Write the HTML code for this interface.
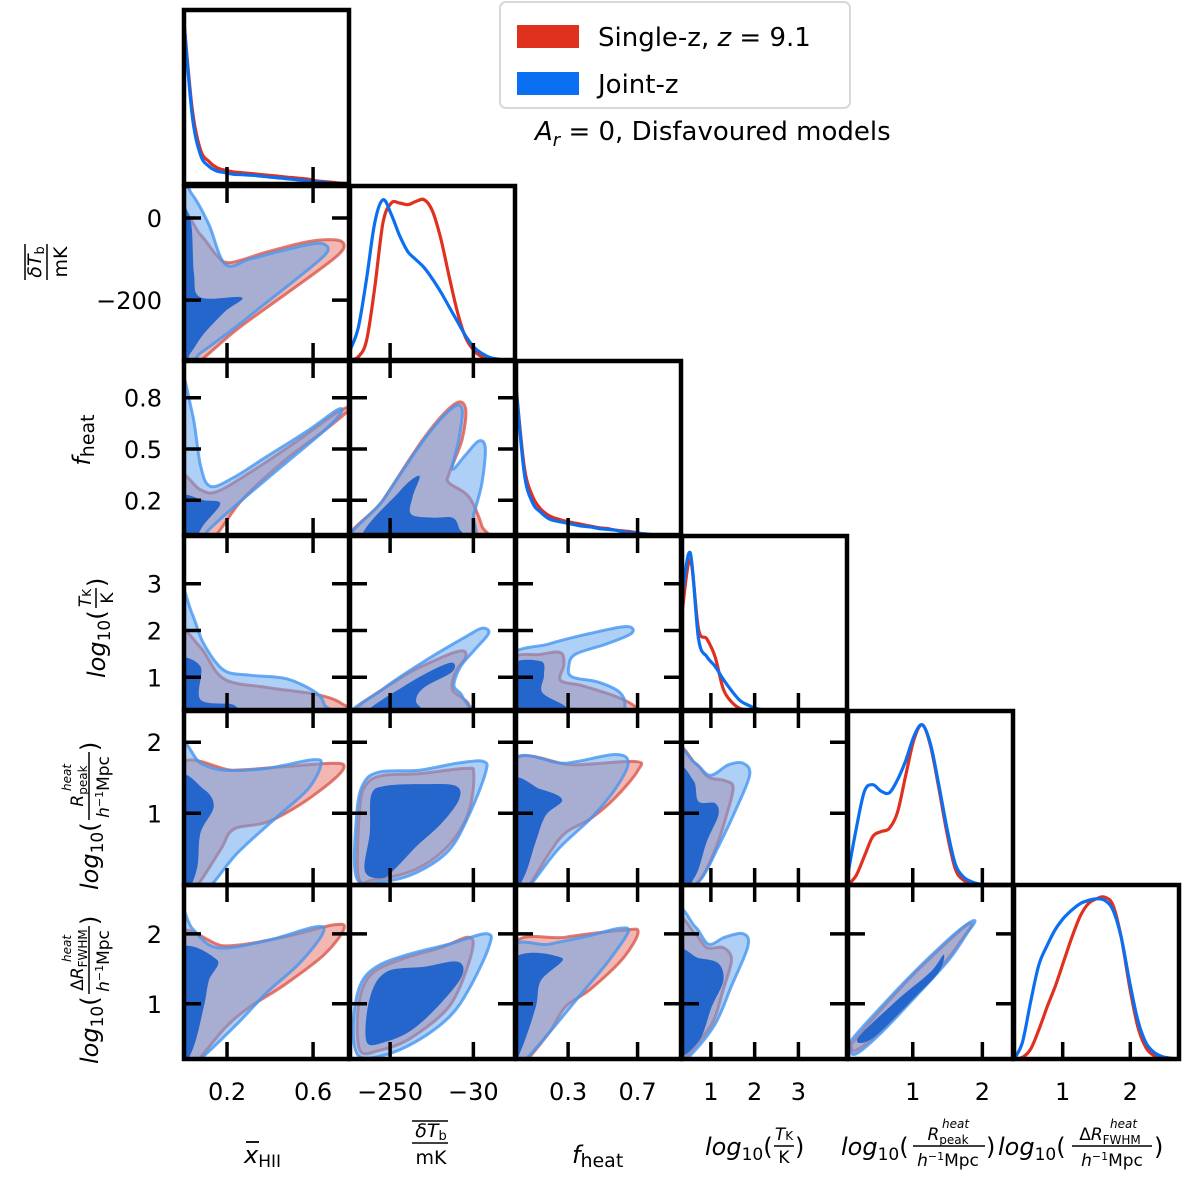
<!DOCTYPE html>
<html><head><meta charset="utf-8"><style>
html,body{margin:0;padding:0;background:#fff;}
svg{display:block;font-family:"DejaVu Sans","Liberation Sans",sans-serif;}
</style></head><body>
<svg id="c" width="1200" height="1188" viewBox="0 0 1200 1188" xmlns="http://www.w3.org/2000/svg"></svg>
<script>
// ---------- data ----------
const paramNames = ["xHII","dTb","fheat","logTK","logRpeak","logDR"];
const xRangeLo = [0, -356, 0, 0.34, 0.07, 0.28];
const xRangeHi = [0.767, 80, 0.95, 4.11, 2.44, 2.72];
const yRangeLo = [0, -346, -0.003, 0.30, -0.01, 0.21];
const yRangeHi = [1, 78, 1.015, 4.02, 2.44, 2.70];
const xTicks = [[0.2,0.6],[-250,-30],[0.3,0.7],[1,2,3],[1,2],[1,2]];
const xTickLabels = [["0.2","0.6"],["\u2212250","\u221230"],["0.3","0.7"],["1","2","3"],["1","2"],["1","2"]];
const yTicks = [[],[0,-200],[0.8,0.5,0.2],[3,2,1],[2,1],[2,1]];
const yTickLabels = [[],["0","\u2212200"],["0.8","0.5","0.2"],["3","2","1"],["2","1"],["2","1"]];

// 1D marginal densities (normalised), sampled at 21 evenly spaced points across each x range
const densRed = [
 [1.0,0.46,0.21,0.14,0.1,0.085,0.075,0.07,0.065,0.06,0.055,0.05,0.045,0.04,0.035,0.03,0.02,0.015,0.01,0.005,0],
 [0,0.02,0.12,0.45,0.85,0.97,0.97,0.96,0.98,0.99,0.92,0.75,0.52,0.3,0.14,0.06,0.02,0.01,0,0,0],
 [0.92,0.42,0.24,0.16,0.12,0.1,0.085,0.075,0.065,0.055,0.045,0.04,0.03,0.025,0.02,0.01,0.005,0,0,0,0],
 [0.6,0.93,0.5,0.44,0.33,0.13,0.05,0.01,0,0,0,0,0,0,0,0,0,0,0,0,0],
 [0,0.06,0.18,0.3,0.33,0.35,0.45,0.68,0.9,0.99,0.86,0.6,0.32,0.1,0.03,0.01,0,0,0,0,0],
 [0,0.01,0.06,0.18,0.32,0.45,0.6,0.75,0.88,0.96,0.99,1.0,0.95,0.75,0.45,0.2,0.07,0.02,0.005,0,0]
];
const densBlue = [
 [1.0,0.42,0.18,0.11,0.08,0.07,0.06,0.058,0.055,0.05,0.045,0.04,0.035,0.03,0.025,0.02,0.015,0.01,0.005,0.002,0],
 [0.06,0.2,0.5,0.85,0.99,0.9,0.77,0.67,0.62,0.57,0.5,0.42,0.33,0.24,0.15,0.08,0.04,0.015,0.005,0,0],
 [0.92,0.38,0.2,0.14,0.1,0.085,0.075,0.065,0.055,0.05,0.04,0.035,0.03,0.02,0.015,0.01,0.005,0,0,0,0],
 [0.7,0.97,0.44,0.33,0.27,0.19,0.12,0.06,0.03,0.01,0,0,0,0,0,0,0,0,0,0,0],
 [0.07,0.35,0.58,0.62,0.58,0.57,0.65,0.77,0.92,0.99,0.87,0.62,0.35,0.13,0.05,0.02,0.005,0,0,0,0],
 [0,0.1,0.35,0.58,0.7,0.8,0.87,0.92,0.96,0.98,0.99,0.98,0.92,0.75,0.48,0.24,0.1,0.04,0.015,0.005,0]
];

// 2D credible contours, as fractions of each parameter range: key "row-col"
const contourBlueOuter = {
 "1-0":[[0,1],[0.05,0.95],[0.15,0.78],[0.25,0.55],[0.4,0.58],[0.6,0.63],[0.8,0.67],[0.87,0.65],[0.85,0.6],[0.7,0.48],[0.5,0.33],[0.3,0.18],[0.1,0.04],[0,0]],
 "2-0":[[0,0.95],[0.05,0.7],[0.1,0.4],[0.16,0.28],[0.3,0.33],[0.5,0.45],[0.75,0.6],[0.93,0.72],[0.95,0.7],[0.85,0.6],[0.6,0.4],[0.35,0.2],[0.15,0.03],[0.1,0],[0,0]],
 "2-1":[[0.02,0],[0.2,0.2],[0.45,0.55],[0.62,0.73],[0.68,0.72],[0.66,0.55],[0.62,0.38],[0.7,0.46],[0.78,0.54],[0.82,0.5],[0.8,0.3],[0.75,0.12],[0.7,0]],
 "3-0":[[0,0.72],[0.05,0.55],[0.12,0.38],[0.24,0.23],[0.4,0.2],[0.62,0.18],[0.8,0.1],[0.85,0.03],[0.85,0],[0,0]],
 "3-1":[[0.02,0],[0.2,0.12],[0.45,0.28],[0.7,0.42],[0.8,0.47],[0.84,0.44],[0.75,0.34],[0.67,0.25],[0.63,0.14],[0.68,0.08],[0.68,0]],
 "3-2":[[0,0.3],[0.2,0.38],[0.45,0.44],[0.67,0.48],[0.7,0.44],[0.55,0.38],[0.36,0.32],[0.32,0.25],[0.34,0.19],[0.5,0.16],[0.63,0.1],[0.66,0.02],[0.62,0],[0,0]],
 "4-0":[[0,0.8],[0.1,0.7],[0.25,0.66],[0.5,0.67],[0.78,0.72],[0.83,0.69],[0.75,0.55],[0.55,0.38],[0.32,0.18],[0.12,0],[0,0]],
 "4-1":[[0.04,0.04],[0.04,0.4],[0.08,0.58],[0.18,0.65],[0.42,0.66],[0.65,0.7],[0.81,0.71],[0.82,0.64],[0.72,0.4],[0.6,0.2],[0.4,0.07],[0.2,0.02]],
 "4-2":[[0,0.69],[0.3,0.7],[0.6,0.75],[0.68,0.7],[0.6,0.55],[0.45,0.38],[0.25,0.2],[0.05,0],[0,0]],
 "4-3":[[0,0.74],[0.08,0.7],[0.17,0.63],[0.28,0.69],[0.37,0.7],[0.41,0.63],[0.32,0.42],[0.22,0.22],[0.12,0.04],[0.02,0],[0,0]],
 "5-0":[[0,0.86],[0.05,0.75],[0.2,0.64],[0.5,0.68],[0.8,0.76],[0.84,0.72],[0.7,0.55],[0.5,0.38],[0.32,0.2],[0.05,0],[0,0]],
 "5-1":[[0.05,0.02],[0.02,0.2],[0.06,0.42],[0.16,0.53],[0.35,0.6],[0.6,0.66],[0.83,0.72],[0.84,0.64],[0.72,0.4],[0.6,0.24],[0.4,0.1],[0.2,0.02]],
 "5-2":[[0,0.61],[0.2,0.66],[0.45,0.71],[0.62,0.75],[0.68,0.73],[0.55,0.55],[0.4,0.38],[0.2,0.15],[0.02,0],[0,0]],
 "5-3":[[0,0.82],[0.08,0.76],[0.16,0.66],[0.26,0.7],[0.37,0.72],[0.4,0.65],[0.3,0.42],[0.2,0.2],[0.05,0.02],[0,0]],
 "5-4":[[0.01,0.06],[0.03,0.12],[0.35,0.45],[0.6,0.68],[0.73,0.78],[0.77,0.79],[0.72,0.72],[0.62,0.58],[0.45,0.4],[0.2,0.15],[0.05,0.03]]
};
const contourRedOuter = {
 "1-0":[[0,0.83],[0.1,0.72],[0.2,0.6],[0.28,0.56],[0.5,0.62],[0.75,0.68],[0.92,0.69],[0.97,0.66],[0.93,0.6],[0.75,0.47],[0.5,0.3],[0.3,0.16],[0.05,0],[0,0]],
 "2-0":[[0,0.35],[0.1,0.26],[0.2,0.25],[0.4,0.36],[0.7,0.55],[0.92,0.7],[1,0.75],[0.98,0.7],[0.85,0.6],[0.6,0.42],[0.35,0.2],[0.15,0],[0,0]],
 "2-1":[[0.02,0],[0.2,0.2],[0.45,0.56],[0.63,0.75],[0.7,0.73],[0.68,0.55],[0.6,0.35],[0.6,0.3],[0.72,0.22],[0.8,0.05],[0.8,0]],
 "3-0":[[0,0.45],[0.1,0.36],[0.24,0.18],[0.5,0.13],[0.8,0.09],[0.95,0.04],[0.98,0],[0,0]],
 "3-1":[[0.03,0],[0.3,0.18],[0.55,0.3],[0.68,0.34],[0.7,0.3],[0.64,0.22],[0.62,0.12],[0.68,0.07],[0.72,0.03],[0.7,0]],
 "3-2":[[0,0.28],[0.15,0.32],[0.27,0.33],[0.29,0.26],[0.27,0.17],[0.4,0.14],[0.6,0.08],[0.72,0.02],[0.72,0],[0,0]],
 "4-0":[[0,0.67],[0.3,0.66],[0.6,0.68],[0.9,0.7],[0.97,0.68],[0.9,0.6],[0.7,0.46],[0.5,0.36],[0.3,0.32],[0.22,0.2],[0.05,0],[0,0]],
 "4-1":[[0.05,0.05],[0.06,0.45],[0.1,0.58],[0.2,0.63],[0.42,0.64],[0.7,0.67],[0.75,0.64],[0.72,0.42],[0.6,0.23],[0.4,0.09],[0.15,0.03]],
 "4-2":[[0,0.69],[0.35,0.69],[0.72,0.71],[0.74,0.66],[0.6,0.5],[0.45,0.38],[0.3,0.3],[0.2,0.18],[0.05,0],[0,0]],
 "4-3":[[0,0.75],[0.08,0.7],[0.16,0.62],[0.26,0.6],[0.31,0.56],[0.27,0.4],[0.2,0.2],[0.1,0.02],[0,0]],
 "5-0":[[0,0.7],[0.25,0.65],[0.6,0.7],[0.9,0.77],[0.97,0.75],[0.85,0.6],[0.6,0.42],[0.4,0.3],[0.25,0.18],[0.05,0],[0,0]],
 "5-1":[[0.06,0.05],[0.05,0.3],[0.12,0.48],[0.3,0.57],[0.55,0.64],[0.72,0.7],[0.74,0.62],[0.65,0.38],[0.55,0.25],[0.35,0.11],[0.18,0.05]],
 "5-2":[[0,0.63],[0.3,0.7],[0.65,0.74],[0.74,0.73],[0.65,0.58],[0.45,0.4],[0.3,0.3],[0.2,0.15],[0.03,0],[0,0]],
 "5-3":[[0,0.77],[0.08,0.72],[0.15,0.64],[0.25,0.64],[0.3,0.57],[0.25,0.4],[0.18,0.2],[0.03,0.02],[0,0]],
 "5-4":[[0.02,0.07],[0.05,0.12],[0.35,0.44],[0.6,0.67],[0.72,0.77],[0.75,0.77],[0.7,0.7],[0.6,0.57],[0.45,0.41],[0.2,0.16],[0.05,0.05]]
};
const contourBlueInner = {
 "1-0":[[0,0.85],[0.04,0.8],[0.06,0.5],[0.1,0.36],[0.35,0.36],[0.25,0.28],[0.12,0.15],[0.04,0.04],[0,0]],
 "2-0":[[0,0.22],[0.12,0.2],[0.22,0.18],[0.12,0.06],[0.05,0],[0,0]],
 "2-1":[[0.08,0],[0.3,0.25],[0.42,0.34],[0.38,0.22],[0.37,0.12],[0.5,0.1],[0.62,0.1],[0.66,0.04],[0.66,0]],
 "3-0":[[0,0.28],[0.1,0.25],[0.1,0.06],[0.3,0.03],[0.3,0],[0,0]],
 "3-1":[[0.08,0],[0.35,0.15],[0.6,0.27],[0.62,0.22],[0.45,0.13],[0.4,0.05],[0.45,0]],
 "3-2":[[0,0.25],[0.15,0.28],[0.17,0.2],[0.16,0.1],[0.3,0.02],[0.3,0],[0,0]],
 "4-0":[[0,0.6],[0.12,0.55],[0.18,0.45],[0.1,0.3],[0.08,0.1],[0.02,0],[0,0]],
 "4-1":[[0.09,0.08],[0.12,0.3],[0.13,0.52],[0.22,0.57],[0.45,0.58],[0.64,0.57],[0.66,0.49],[0.55,0.35],[0.4,0.22],[0.28,0.1],[0.2,0.04]],
 "4-2":[[0,0.58],[0.15,0.55],[0.28,0.49],[0.18,0.4],[0.12,0.25],[0.05,0.05],[0,0]],
 "4-3":[[0,0.65],[0.07,0.6],[0.1,0.48],[0.2,0.47],[0.22,0.4],[0.15,0.25],[0.08,0.05],[0,0]],
 "5-0":[[0,0.61],[0.2,0.57],[0.15,0.45],[0.12,0.3],[0.05,0.05],[0,0]],
 "5-1":[[0.1,0.1],[0.12,0.35],[0.22,0.5],[0.45,0.53],[0.65,0.56],[0.68,0.48],[0.55,0.32],[0.38,0.17],[0.22,0.1]],
 "5-2":[[0,0.55],[0.28,0.58],[0.15,0.45],[0.12,0.3],[0.03,0.05],[0,0]],
 "5-3":[[0,0.6],[0.1,0.58],[0.22,0.55],[0.25,0.45],[0.18,0.3],[0.1,0.1],[0,0.05]],
 "5-4":[[0.06,0.12],[0.3,0.34],[0.5,0.5],[0.58,0.6],[0.55,0.5],[0.4,0.35],[0.15,0.12]]
};

// ---------- layout ----------
const svg = document.getElementById('c');
const NS = 'http://www.w3.org/2000/svg';
const L = [184,350,516,682,848,1014], T = [10,186,361,536,711,885], W = 165, H = 174;
const RED = '#e0301e', BLUE = '#0a6ff0';
function mk(tag, attrs, parent){ const e=document.createElementNS(NS,tag); for(const k in attrs) e.setAttribute(k,attrs[k]); (parent||svg).appendChild(e); return e; }
function xAxis(c){ return v => L[c] + (v - xRangeLo[c])/(xRangeHi[c]-xRangeLo[c])*W; }
function yAxis(r){ return v => T[r] + H - (v - yRangeLo[r])/(yRangeHi[r]-yRangeLo[r])*H; }
function smoothPath(pts, closed){
  const n=pts.length; let d='M'+pts[0][0].toFixed(1)+','+pts[0][1].toFixed(1);
  const get=i=> closed ? pts[(i+n)%n] : pts[Math.max(0,Math.min(n-1,i))];
  const segs = closed ? n : n-1;
  for(let i=0;i<segs;i++){
    const p0=get(i-1),p1=get(i),p2=get(i+1),p3=get(i+2);
    const c1=[p1[0]+(p2[0]-p0[0])/6,p1[1]+(p2[1]-p0[1])/6];
    const c2=[p2[0]-(p3[0]-p1[0])/6,p2[1]-(p3[1]-p1[1])/6];
    d+=' C'+c1[0].toFixed(1)+','+c1[1].toFixed(1)+' '+c2[0].toFixed(1)+','+c2[1].toFixed(1)+' '+p2[0].toFixed(1)+','+p2[1].toFixed(1);
  }
  return closed? d+' Z' : d;
}
const defs = mk('defs',{});
function fracToPx(r,c,pts){
  const xa=xAxis(c), ya=yAxis(r);
  return pts.map(p=>{
    let u=p[0], v=p[1];
    if(u<=0) u=-0.04; if(v<=0) v=-0.04; if(u>=1) u=1.04;
    const xv = xRangeLo[c] + u*(xRangeHi[c]-xRangeLo[c]);
    const yv = yRangeLo[r] + v*(yRangeHi[r]-yRangeLo[r]);
    return [xa(xv), ya(yv)];
  });
}

for(let r=0;r<6;r++){
  for(let c=0;c<=r;c++){
    const g = mk('g',{});
    
    
    const cid='clip'+r+c;
    const cp=mk('clipPath',{id:cid},defs); mk('rect',{x:L[c],y:T[r],width:W,height:H},cp);
    const inner = mk('g',{'clip-path':'url(#'+cid+')'},g);
    if(r===c){
      const xa=xAxis(c); const base=T[r]+H;
      [[densRed[c],RED,'red'],[densBlue[c],BLUE,'blue']].forEach(([arr,col,nm])=>{
        const pts=arr.map((d,i)=>[xa(xRangeLo[c]+i/(arr.length-1)*(xRangeHi[c]-xRangeLo[c])), base - d*0.93*H]);
        const p=mk('path',{d:smoothPath(pts,false),fill:'none',stroke:col,'stroke-width':3.2,'stroke-linejoin':'round'},inner);
        
        
      });
    } else {
      const key=r+'-'+c;
      const ro=mk('path',{d:smoothPath(fracToPx(r,c,contourRedOuter[key]),true),fill:'rgba(232,110,100,0.5)',stroke:'rgba(215,80,70,0.75)','stroke-width':3},inner);
      
      
      const bo=mk('path',{d:smoothPath(fracToPx(r,c,contourBlueOuter[key]),true),fill:'rgba(100,165,240,0.52)',stroke:'rgba(70,150,240,0.8)','stroke-width':3},inner);
      
      
      const bi=mk('path',{d:smoothPath(fracToPx(r,c,contourBlueInner[key]),true),fill:'#2466cc',stroke:'none'},inner);
      
      
    }
    const xa=xAxis(c), tl=17;
    xTicks[c].forEach(t=>{
      const x=xa(t);
      mk('line',{x1:x,x2:x,y1:T[r]+H,y2:T[r]+H-tl,stroke:'#000','stroke-width':3.5},g);
      if(r!==c) mk('line',{x1:x,x2:x,y1:T[r],y2:T[r]+tl,stroke:'#000','stroke-width':3.5},g);
    });
    if(r!==c){
      const ya=yAxis(r);
      yTicks[r].forEach(t=>{
        const y=ya(t);
        mk('line',{x1:L[c],x2:L[c]+tl,y1:y,y2:y,stroke:'#000','stroke-width':3.5},g);
        mk('line',{x1:L[c]+W,x2:L[c]+W-tl,y1:y,y2:y,stroke:'#000','stroke-width':3.5},g);
      });
    }
    mk('rect',{x:L[c],y:T[r],width:W,height:H,fill:'none',stroke:'#000','stroke-width':4.5},g);
  }
}
for(let c=0;c<6;c++){
  const xa=xAxis(c);
  xTicks[c].forEach((t,i)=>{
    const e=mk('text',{x:xa(t),y:1100,'font-size':24,'text-anchor':'middle',fill:'#000'});
    e.textContent=xTickLabels[c][i];
    
    
  });
}
for(let r=1;r<6;r++){
  const ya=yAxis(r);
  yTicks[r].forEach((t,i)=>{
    const e=mk('text',{x:162,y:ya(t)+9,'font-size':24,'text-anchor':'end',fill:'#000'});
    e.textContent=yTickLabels[r][i];
    
    
  });
}
</script>
<svg width="1200" height="1188" style="position:absolute;left:0;top:0" xmlns="http://www.w3.org/2000/svg" font-family="DejaVu Sans, Liberation Sans, sans-serif">
  <g>
    <rect x="500" y="2" width="350" height="106" rx="6" fill="#fff" fill-opacity="0.85" stroke="#d8d8d8" stroke-width="2"/>
    <rect x="517" y="25" width="62" height="23" fill="#e0301e"/>
    <text x="598" y="46" font-size="26">Single-z,  <tspan font-style="italic">z</tspan> = 9.1</text>
    <rect x="517" y="72" width="62" height="23" fill="#0a6ff0"/>
    <text x="598" y="93" font-size="26">Joint-z</text>
  </g>
  <text x="535" y="140" font-size="26"><tspan font-style="italic">A</tspan><tspan font-style="italic" font-size="18" dy="6">r</tspan><tspan dy="-6"> = 0, Disfavoured models</tspan></text>

  <g font-size="24">
    <text x="244" y="1163"><tspan font-style="italic">x</tspan><tspan font-size="17" dy="4">HII</tspan></text>
    <line x1="246" y1="1142" x2="259" y2="1142" stroke="#000" stroke-width="1.8"/>
    <text x="431" y="1137" font-size="19" text-anchor="middle"><tspan font-style="italic">δT</tspan><tspan font-size="13" dy="3">b</tspan></text>
    <line x1="412" y1="1121" x2="448" y2="1121" stroke="#000" stroke-width="1.5"/>
    <line x1="412" y1="1143" x2="448" y2="1143" stroke="#000" stroke-width="1.5"/>
    <text x="431" y="1164" font-size="19" text-anchor="middle">mK</text>
    <text x="572" y="1163"><tspan font-style="italic">f</tspan><tspan font-size="19" dy="4">heat</tspan></text>
    <text x="705" y="1155" font-style="italic">log<tspan font-size="17" dy="5" font-style="normal">10</tspan><tspan dy="-5" font-style="normal">(</tspan></text>
    <text x="795" y="1155">)</text>
    <text x="784" y="1140" font-size="17" text-anchor="middle" font-style="italic">T<tspan font-size="12" font-style="normal">K</tspan></text>
    <line x1="774" y1="1146" x2="794" y2="1146" stroke="#000" stroke-width="1.5"/>
    <text x="784" y="1163" font-size="17" text-anchor="middle">K</text>
    <text x="841" y="1155" font-style="italic">log<tspan font-size="17" dy="5" font-style="normal">10</tspan><tspan dy="-5" font-style="normal">(</tspan></text>
    <text x="948" y="1140" font-size="17" text-anchor="middle"><tspan font-style="italic">R</tspan><tspan font-size="12" dy="4">peak</tspan></text>
    <text x="942" y="1128" font-size="12" font-style="italic">heat</text>
    <line x1="913" y1="1146" x2="985" y2="1146" stroke="#000" stroke-width="1.5"/>
    <text x="948" y="1166" font-size="17" text-anchor="middle"><tspan font-style="italic">h</tspan><tspan font-size="11" dy="-6">−1</tspan><tspan dy="6">Mpc</tspan></text>
    <text x="986" y="1155">)</text>
    <text x="998" y="1155" font-style="italic">log<tspan font-size="17" dy="5" font-style="normal">10</tspan><tspan dy="-5" font-style="normal">(</tspan></text>
    <text x="1110" y="1140" font-size="17" text-anchor="middle">Δ<tspan font-style="italic">R</tspan><tspan font-size="12" dy="4">FWHM</tspan></text>
    <text x="1110" y="1128" font-size="12" font-style="italic">heat</text>
    <line x1="1072" y1="1146" x2="1152" y2="1146" stroke="#000" stroke-width="1.5"/>
    <text x="1112" y="1166" font-size="17" text-anchor="middle"><tspan font-style="italic">h</tspan><tspan font-size="11" dy="-6">−1</tspan><tspan dy="6">Mpc</tspan></text>
    <text x="1154" y="1155">)</text>
  </g>

  <g>
    <g transform="translate(45,262) rotate(-90)">
      <text x="0" y="-4" font-size="19" text-anchor="middle"><tspan font-style="italic">δT</tspan><tspan font-size="13" dy="3">b</tspan></text>
      <line x1="-18" y1="-20" x2="18" y2="-20" stroke="#000" stroke-width="1.5"/>
      <line x1="-18" y1="2" x2="18" y2="2" stroke="#000" stroke-width="1.5"/>
      <text x="0" y="22" font-size="19" text-anchor="middle">mK</text>
    </g>
    <text transform="translate(90,440) rotate(-90)" font-size="24" text-anchor="middle"><tspan font-style="italic">f</tspan><tspan font-size="19" dy="4">heat</tspan></text>
    <g transform="translate(105,620) rotate(-90)">
      <text x="-58" y="0" font-size="24" font-style="italic">log<tspan font-size="17" dy="5" font-style="normal">10</tspan><tspan dy="-5" font-style="normal">(</tspan></text>
      <text x="22" y="-14" font-size="17" text-anchor="middle" font-style="italic">T<tspan font-size="12" font-style="normal">K</tspan></text>
      <line x1="12" y1="-9" x2="32" y2="-9" stroke="#000" stroke-width="1.5"/>
      <text x="22" y="8" font-size="17" text-anchor="middle">K</text>
      <text x="33" y="0" font-size="24">)</text>
    </g>
    <g transform="translate(98,800) rotate(-90)">
      <text x="-90" y="0" font-size="24" font-style="italic">log<tspan font-size="17" dy="5" font-style="normal">10</tspan><tspan dy="-5" font-style="normal">(</tspan></text>
      <text x="14" y="-15" font-size="17" text-anchor="middle"><tspan font-style="italic">R</tspan><tspan font-size="12" dy="4">peak</tspan></text>
      <text x="9" y="-27" font-size="12" font-style="italic">heat</text>
      <line x1="-20" y1="-9" x2="48" y2="-9" stroke="#000" stroke-width="1.5"/>
      <text x="13" y="11" font-size="17" text-anchor="middle"><tspan font-style="italic">h</tspan><tspan font-size="11" dy="-6">−1</tspan><tspan dy="6">Mpc</tspan></text>
      <text x="49" y="0" font-size="24">)</text>
    </g>
    <g transform="translate(98,974) rotate(-90)">
      <text x="-90" y="0" font-size="24" font-style="italic">log<tspan font-size="17" dy="5" font-style="normal">10</tspan><tspan dy="-5" font-style="normal">(</tspan></text>
      <text x="14" y="-15" font-size="17" text-anchor="middle">Δ<tspan font-style="italic">R</tspan><tspan font-size="12" dy="4">FWHM</tspan></text>
      <text x="12" y="-27" font-size="12" font-style="italic">heat</text>
      <line x1="-20" y1="-9" x2="48" y2="-9" stroke="#000" stroke-width="1.5"/>
      <text x="13" y="11" font-size="17" text-anchor="middle"><tspan font-style="italic">h</tspan><tspan font-size="11" dy="-6">−1</tspan><tspan dy="6">Mpc</tspan></text>
      <text x="49" y="0" font-size="24">)</text>
    </g>
  </g>
</svg>
</body></html>
